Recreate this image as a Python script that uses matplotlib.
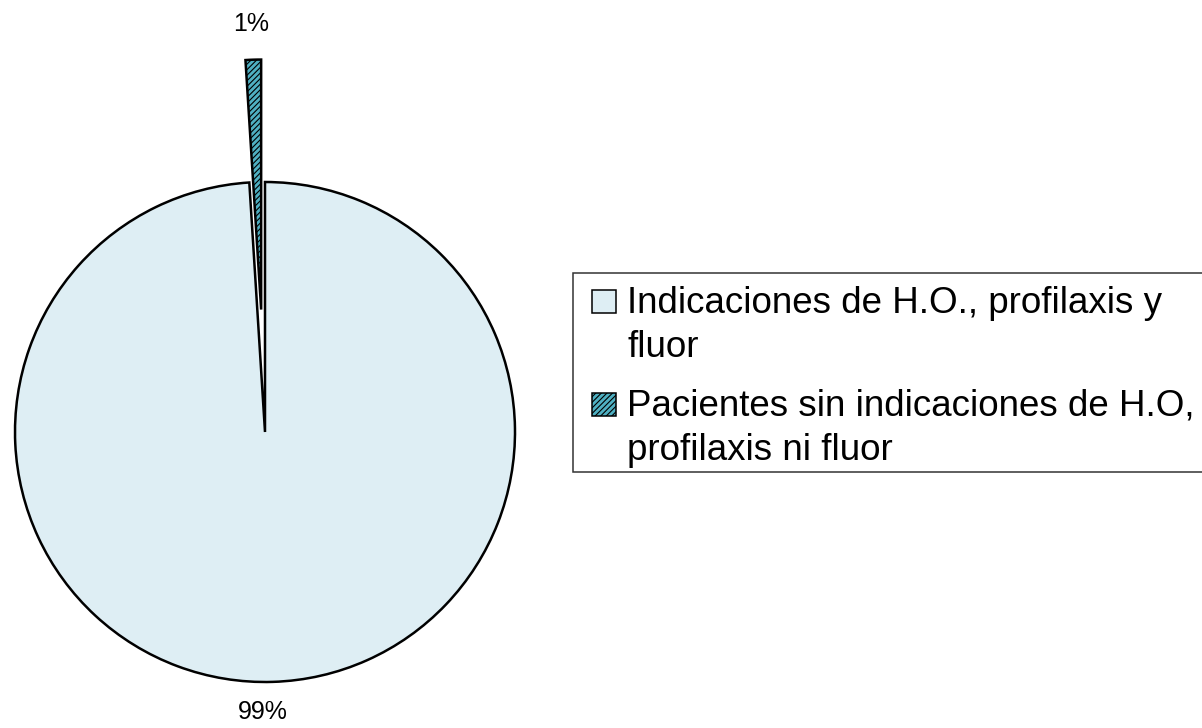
import matplotlib
matplotlib.use("Agg")
import matplotlib as mpl
import matplotlib.pyplot as plt
from matplotlib.patches import Rectangle

labels = ["Indicaciones de H.O., profilaxis y\nfluor",
          "Pacientes sin indicaciones de H.O,\nprofilaxis ni fluor"]
values = [99, 1]
pct_labels = ["99%", "1%"]
colors = ["#deeef4", "#4fb0c2"]
hatches = [None, "//////"]

plt.rcParams['font.family'] = ['Liberation Sans', 'DejaVu Sans']
mpl.rcParams['hatch.color'] = '#1f5a66'
mpl.rcParams['hatch.linewidth'] = 0.8

W, H = 1202, 728
fig = plt.figure(figsize=(W / 100, H / 100), dpi=100)
ax = fig.add_axes([0, 0, 530 / W, 1])

wedges, _ = ax.pie(values, colors=colors, startangle=90 + 360 * values[1] / 100,
                   counterclock=True, explode=[0, 0.49],
                   wedgeprops=dict(edgecolor="black", linewidth=1.8))
for w, h in zip(wedges, hatches):
    if h:
        w.set_hatch(h)

ax.set_xlim(-1.06, 1.06)
ax.set_ylim(-1.184, 1.728)
ax.set_aspect('auto')

# percentage labels
ax.text(-0.056, 1.632, pct_labels[1], ha="center", va="center", fontsize=18)
ax.text(-0.01, -1.12, pct_labels[0], ha="center", va="center", fontsize=18)


def fx(x):
    return x / W


def fy(y):
    return 1 - y / H


# legend (drawn manually so handles align with the first text line)
frame = Rectangle((fx(573), fy(472)), fx(1215) - fx(573), fy(273) - fy(472),
                  transform=fig.transFigure, facecolor="white",
                  edgecolor="#333333", linewidth=1.1, clip_on=False)
fig.patches.append(frame)

entry_baselines = [313, 416]
line_step = 44
for lab, col, hat, yb in zip(labels, colors, hatches, entry_baselines):
    box = Rectangle((fx(592), fy(yb)), fx(616) - fx(592), fy(yb - 23) - fy(yb),
                    transform=fig.transFigure, facecolor=col, hatch=hat,
                    edgecolor="black", linewidth=1.1)
    fig.patches.append(box)
    for k, line in enumerate(lab.split("\n")):
        fig.text(fx(627), fy(yb + k * line_step), line, ha="left",
                 va="baseline", fontsize=26.5)

fig.savefig("out.png", dpi=100)
